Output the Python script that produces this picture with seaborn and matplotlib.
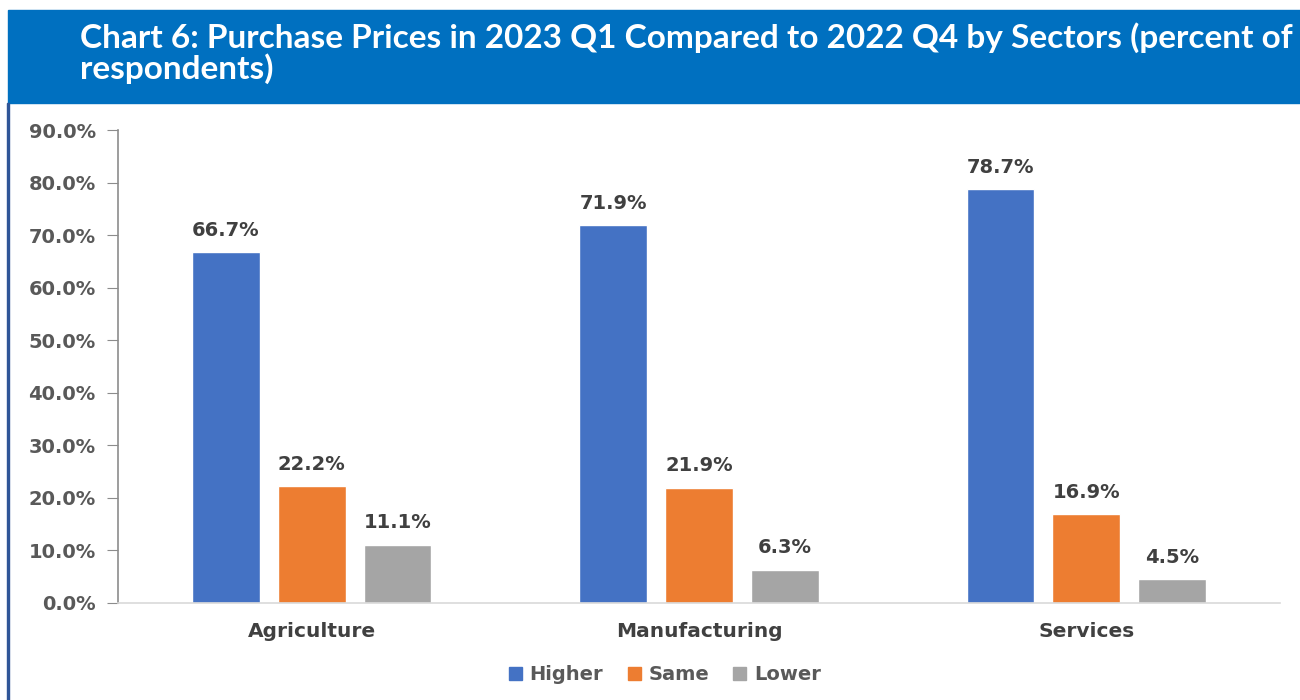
import matplotlib
matplotlib.use("Agg")
import matplotlib.pyplot as plt
import matplotlib.patches as mpatches
import pandas as pd
import seaborn as sns

sectors = ["Agriculture", "Manufacturing", "Services"]
answers = ["Higher", "Same", "Lower"]
higher = [66.7, 71.9, 78.7]
same = [22.2, 21.9, 16.9]
lower = [11.1, 6.3, 4.5]
colors = ["#4472C4", "#ED7D31", "#A5A5A5"]
title = "Chart 6: Purchase Prices in 2023 Q1 Compared to 2022 Q4 by Sectors (percent of\nrespondents)"

df = pd.DataFrame({"sector": sectors * 3,
                   "answer": [a for a in answers for _ in sectors],
                   "value": higher + same + lower})

sns.set_style("white")
plt.rcParams['font.family'] = ['DejaVu Sans']

fig = plt.figure(figsize=(13, 7), dpi=100)
# blue title banner and thin left border
fig.patches.append(mpatches.Rectangle((8 / 1300, 1 - 103 / 700), 1 - 8 / 1300, 93 / 700,
                                      transform=fig.transFigure, color="#0070C0", zorder=0))
fig.patches.append(mpatches.Rectangle((7 / 1300, 0), 1.5 / 1300, 1 - 103 / 700,
                                      transform=fig.transFigure, color="#2F5597", zorder=0))
fig.text(80 / 1300, 1 - 53 / 700, title, color="white", fontsize=24, fontweight="bold",
         va="center", ha="left", linespacing=1.0, family=["Lato", "DejaVu Sans"])

ax = fig.add_axes([118 / 1300, 1 - 603 / 700, (1280 - 118) / 1300, (603 - 130) / 700])
sns.barplot(data=df, x="sector", y="value", hue="answer", hue_order=answers,
            palette=colors, width=0.665, gap=0.21, ax=ax, legend=False, saturation=1)

for cont in ax.containers:
    ax.bar_label(cont, fmt="%.1f%%", padding=9, fontsize=14, fontweight="bold", color="#404040")

ax.set_xlim(-0.5, 2.5)
ax.set_ylim(0, 90)
ax.set_yticks(range(0, 91, 10))
ax.set_yticklabels([f"{v:.1f}%" for v in range(0, 91, 10)])
ax.set_xlabel("")
ax.set_ylabel("")
for s in ["top", "right"]:
    ax.spines[s].set_visible(False)
ax.spines["left"].set_color("#8C8C8C")
ax.spines["bottom"].set_color("#D9D9D9")
ax.spines["left"].set_linewidth(1.2)
ax.spines["bottom"].set_linewidth(1.2)
ax.tick_params(axis="y", left=True, length=8, color="#8C8C8C", labelsize=14, labelcolor="#595959", pad=8)
ax.tick_params(axis="x", bottom=False, labelsize=14.5, labelcolor="#404040", pad=10)
for lab in ax.get_yticklabels() + ax.get_xticklabels():
    lab.set_fontweight("bold")

handles = [mpatches.Patch(color=c, label=a) for a, c in zip(answers, colors)]
leg = fig.legend(handles=handles, loc="center", bbox_to_anchor=(665 / 1300, 1 - 675 / 700), ncol=3,
                 frameon=False, handlelength=0.67, handleheight=0.67, handletextpad=0.4,
                 columnspacing=1.25, prop={"size": 14, "weight": "bold"})
for t in leg.get_texts():
    t.set_color("#595959")

fig.savefig("out.png", dpi=100)
